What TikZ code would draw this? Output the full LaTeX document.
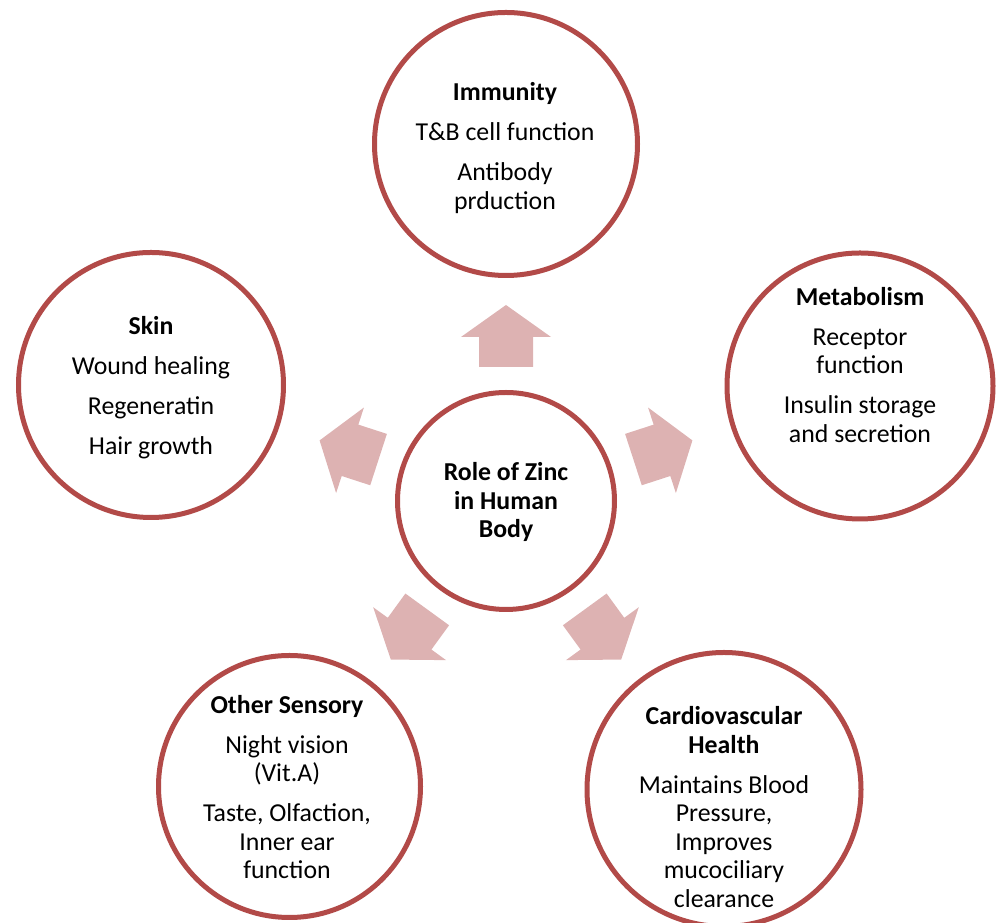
\documentclass[tikz,border=0pt]{standalone}
\usepackage{fontspec}
\setmainfont{Carlito}
\definecolor{ringred}{RGB}{178,74,72}
\definecolor{arrowpink}{RGB}{221,178,178}
\tikzset{
  ring/.style={circle, draw=ringred, line width=5pt, fill=white, inner sep=0pt},
  lbl/.style={align=center, inner sep=0pt, font=\fontsize{25.8pt}{28.5pt}\selectfont},
  blockarrow/.style={fill=arrowpink, draw=none}
}
\begin{document}
\begin{tikzpicture}[x=1pt,y=1pt]
\useasboundingbox (0,0) rectangle (997,923);
% circles
\node[ring, minimum size=217pt] (c) at (506,422) {};
\node[ring, minimum size=263pt] (imm) at (506,779) {};
\node[ring, minimum size=265pt] (skin) at (151,538) {};
\node[ring, minimum size=266pt] (met) at (860,537) {};
\node[ring, minimum size=262pt] (sens) at (289.5,136.5) {};
\node[ring, minimum size=274pt] (card) at (724,133.5) {};
% arrows
\foreach \a in {90,18,-54,-126,162}{
  \begin{scope}[shift={(c.center)}, rotate=\a-90]
    \fill[blockarrow] (-27,134) -- (-27,164) -- (-45,164) -- (0,196) -- (45,164) -- (27,164) -- (27,134) -- cycle;
  \end{scope}
}
% labels
\node[lbl] (tc) at (506,421) {\textbf{Role of Zinc}\\\textbf{in Human}\\\textbf{Body}};
\node[lbl] (timm) at (505,775) {\textbf{Immunity}\\[11.5pt]T\&B cell function\\[11.5pt]Antibody\\prduction};
\node[lbl] (tskin) at (151,535) {\textbf{Skin}\\[11.5pt]Wound healing\\[11.5pt]Regeneratin\\[11.5pt]Hair growth};
\node[lbl] (tmet) at (860,558) {\textbf{Metabolism}\\[11.5pt]Receptor\\function\\[11.5pt]Insulin storage\\and secretion};
\node[lbl] (tsens) at (287,136) {\textbf{Other Sensory}\\[11.5pt]Night vision\\(Vit.A)\\[11.5pt]Taste, Olfaction,\\Inner ear\\function};
\node[lbl] (tcard) at (724,116) {\textbf{Cardiovascular}\\\textbf{Health}\\[11.5pt]Maintains Blood\\Pressure,\\Improves\\mucociliary\\clearance};
\end{tikzpicture}
\end{document}
